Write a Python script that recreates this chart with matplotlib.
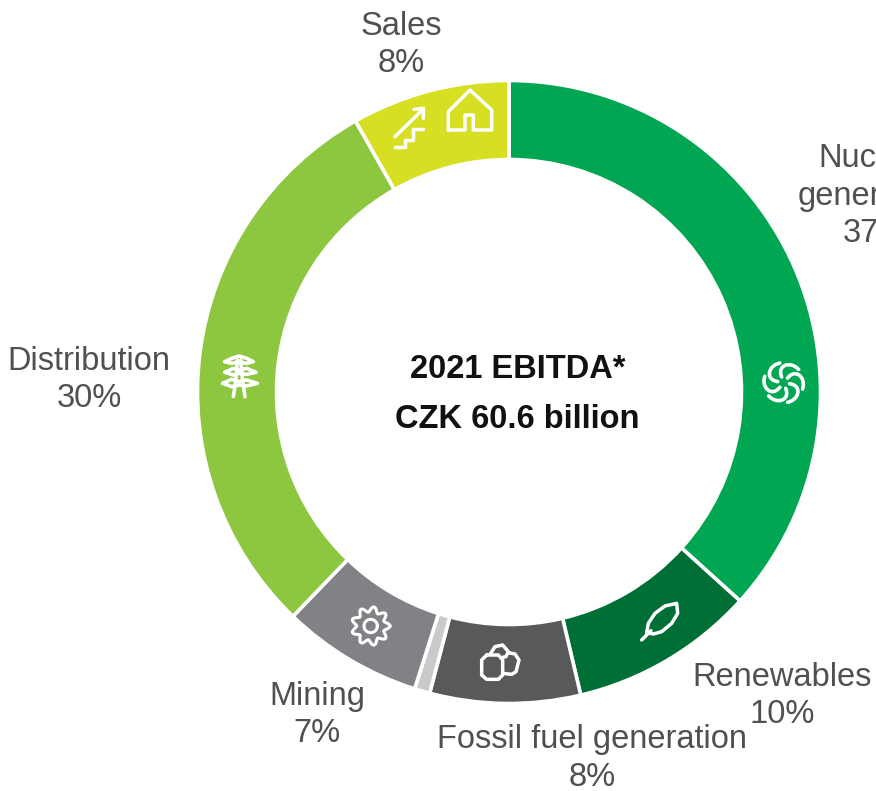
import numpy as np
import matplotlib
matplotlib.use("Agg")
import matplotlib.pyplot as plt

plt.rcParams['font.family'] = ['Liberation Sans', 'DejaVu Sans']

segments = ["Nuclear\ngeneration\n37%", "Renewables\n10%", "Fossil fuel generation\n8%", "", "Mining\n7%", "Distribution\n30%", "Sales\n8%"]
shares = [36.7, 9.6, 7.8, 0.8, 7.3, 29.6, 8.2]
colors = ["#00A651", "#006F35", "#58595B", "#C9CACB", "#808285", "#8DC63F", "#D7DF23"]
label_pos = [(875, 196), (782, 696), (592, 758.5), None, (317, 715), (89, 380), (401, 45)]
center_lines = ["2021 EBITDA*", "CZK 60.6 billion"]

W, H = 876, 791
fig = plt.figure(figsize=(W / 100, H / 100), dpi=100)
ax = fig.add_axes([0, 0, 1, 1])
CX, CY = 509, H - 392

ax.pie(shares, colors=colors, startangle=90, counterclock=False, center=(CX, CY), radius=311.5,
       frame=True, wedgeprops=dict(width=79, edgecolor="white", linewidth=2.6))
ax.set_xlim(0, W)
ax.set_ylim(0, H)
ax.set_aspect("equal")
ax.axis("off")

for label, pos in zip(segments, label_pos):
    if pos:
        ax.text(pos[0], H - pos[1], label, ha="center", va="center", fontsize=23.5,
                color="#505052", linespacing=1.26)

ax.text(517.5, H - 369, center_lines[0], ha="center", va="center", fontsize=23.5, fontweight="bold", color="#111111")
ax.text(517.5, H - 419, center_lines[1], ha="center", va="center", fontsize=23.5, fontweight="bold", color="#111111")


def icon(pts, ox, oy, lw=2.5, closed=False):
    """Decorative white glyph line; pts are in zoom-crop pixels (3x) from origin ox, oy."""
    p = np.array(pts, float) / 3 + [ox, oy]
    xs, ys = p[:, 0], H - p[:, 1]
    if closed:
        xs, ys = np.r_[xs, xs[0]], np.r_[ys, ys[0]]
    ax.plot(xs, ys, color="white", lw=lw, solid_capstyle="round", solid_joinstyle="round", zorder=5)


# Sales icons
icon([(325, 180), (325, 125), (390, 60), (455, 120), (455, 180), (400, 180), (400, 135), (375, 135), (375, 180)], 340, 70, closed=True)
icon([(165, 200), (250, 117)], 340, 70)
icon([(222, 118), (250, 115), (250, 145)], 340, 70)
icon([(165, 232), (195, 232), (195, 210), (220, 210), (220, 177), (248, 177)], 340, 70)

# Nuclear generation swirl
t_c = np.array([131, 128.])
for k in range(6):
    a = np.radians(60 * k + 10)
    s = np.linspace(0, 1, 14)
    r = 18 + 42 * np.sin(s * np.pi / 2)
    th = a + 1.2 * s ** 2
    icon(np.c_[t_c[0] + r * np.cos(th), t_c[1] + r * np.sin(th)], 740, 340, lw=2.6)

# Distribution pylon
icon([(100, 170), (107, 125), (112, 60)], 200, 340, lw=2.6)
icon([(135, 170), (128, 125), (122, 60)], 200, 340, lw=2.6)
icon([(75, 65), (95, 55), (118, 48), (140, 55), (160, 65), (140, 70), (118, 66), (95, 70)], 200, 340, lw=2.6, closed=True)
icon([(75, 97), (100, 85), (118, 90), (140, 85), (168, 97), (140, 103), (118, 100), (100, 105)], 200, 340, lw=2.6, closed=True)
icon([(68, 130), (95, 118), (118, 125), (140, 120), (172, 130), (140, 138), (118, 135), (95, 140)], 200, 340, lw=2.6, closed=True)

# Mining gear
g_c = np.array([272, 258.])
th = np.linspace(0, 2 * np.pi, 200)
icon(np.c_[g_c[0] + (50 + 8 * np.cos(9 * th)) * np.cos(th), g_c[1] + (50 + 8 * np.cos(9 * th)) * np.sin(th)], 280, 540, lw=2.2)
icon(np.c_[g_c[0] + 20 * np.cos(th), g_c[1] + 20 * np.sin(th)], 280, 540, lw=2.2)

# Fossil fuel rocks
icon([(620, 345), (655, 345), (668, 360), (668, 405), (655, 418), (620, 418), (605, 405), (605, 360)], 280, 540, closed=True)
icon([(632, 340), (645, 320), (668, 315), (685, 335), (678, 350), (668, 352)], 280, 540)
icon([(685, 338), (705, 342), (717, 360), (708, 395), (695, 403), (668, 400)], 280, 540)

# Renewables leaf
icon([(65, 128), (70, 100), (90, 70), (120, 48), (155, 40), (158, 70), (140, 100), (110, 125), (85, 132)], 625, 590, closed=True)
icon([(50, 150), (78, 122)], 625, 590)

fig.savefig("out.png", dpi=100)
